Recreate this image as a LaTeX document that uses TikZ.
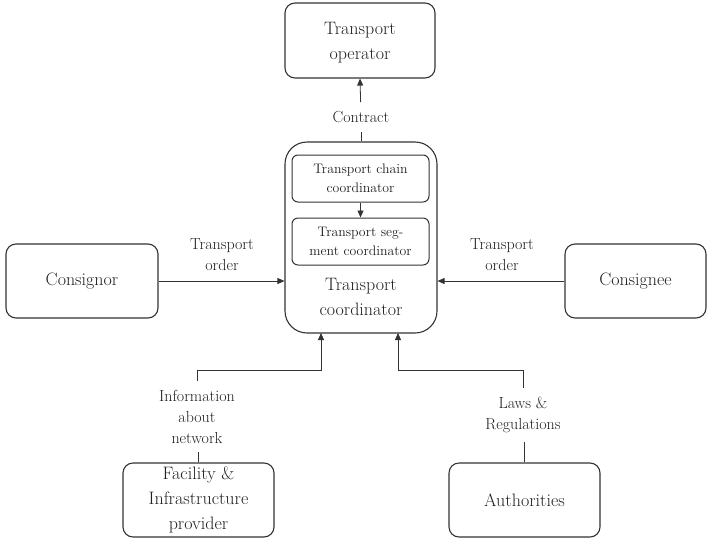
\documentclass[tikz,border=0pt]{standalone}
\usepackage{fontspec}
\usetikzlibrary{arrows.meta}
\definecolor{linec}{HTML}{333333}
\definecolor{textc}{HTML}{202020}
\begin{document}
\begin{tikzpicture}[x=1pt,y=-1pt,
  box/.style={draw=linec, line width=1.1pt, rounded corners=10pt, inner sep=0pt,
    align=center, text=textc, font=\fontsize{18}{25}\selectfont},
  subbox/.style={draw=linec, line width=1pt, rounded corners=6pt, inner sep=0pt,
    align=center, text=textc, font=\fontsize{13.8}{19}\selectfont,
    minimum width=137pt, minimum height=47pt},
  lbl/.style={align=center, text=textc, inner sep=9pt, font=\fontsize{16}{21}\selectfont},
  conn/.style={draw=linec, line width=0.8pt},
  arr/.style={conn, -{Triangle[length=7pt,width=6pt]}}
]
\useasboundingbox (0,0) rectangle (708,538);

% boxes
\node[box, minimum width=150pt, minimum height=75pt] (op) at (360,40.5) {\strut Transport\\operator};
\node[box, rounded corners=22pt, minimum width=152pt, minimum height=191pt] (coord) at (361,237.5) {};
\node[subbox] (chain) at (360.5,178.5) {Transport chain\\coordinator};
\node[subbox] (seg) at (360.5,241.5) {Transport seg-\\ment coordinator};
\node[align=center, text=textc, font=\fontsize{18}{25}\selectfont] (coordtxt) at (361,297) {Transport\\coordinator};
\node[box, minimum width=152pt, minimum height=74pt] (cnor) at (82,281) {Consignor};
\node[box, minimum width=141pt, minimum height=74pt] (cnee) at (635.5,281) {Consignee};
\node[box, minimum width=151pt, minimum height=74pt] (fac) at (198.5,500) {Facility \&\\Infrastructure\\provider};
\node[box, minimum width=151pt, minimum height=74pt] (auth) at (524.5,500) {Authorities};

% labels
\node[lbl] (contract) at (361,117) {Contract};
\node[lbl] (ordl) at (222,254.5) {Transport\\order};
\node[lbl] (ordr) at (502,254.5) {Transport\\order};
\node[lbl] (info) at (197,416.5) {Information\\about\\network};
\node[lbl] (laws) at (523,415) {Laws \&\\Regulations};

% junction points on the coordinator's lower edge
\coordinate (inA) at (321,333);
\coordinate (jA) at (321,370);
\coordinate (inB) at (398,333);
\coordinate (jB) at (398,370);

% connectors
\draw[conn] (coord.north) -- (contract);
\draw[arr] (contract) -- (op.south);
\draw[arr] (chain.south) -- (seg.north);
\draw[arr] (cnor.east) -- (cnor.east -| coord.west);
\draw[arr] (cnee.west) -- (cnee.west -| coord.east);
\draw[conn] (fac.north) -- (fac.north |- info.south);
\draw[arr] (info.north) |- (jA) -- (inA);
\draw[conn] (auth.north) -- (auth.north |- laws.south);
\draw[arr] (laws.north) |- (jB) -- (inB);
\end{tikzpicture}
\end{document}
